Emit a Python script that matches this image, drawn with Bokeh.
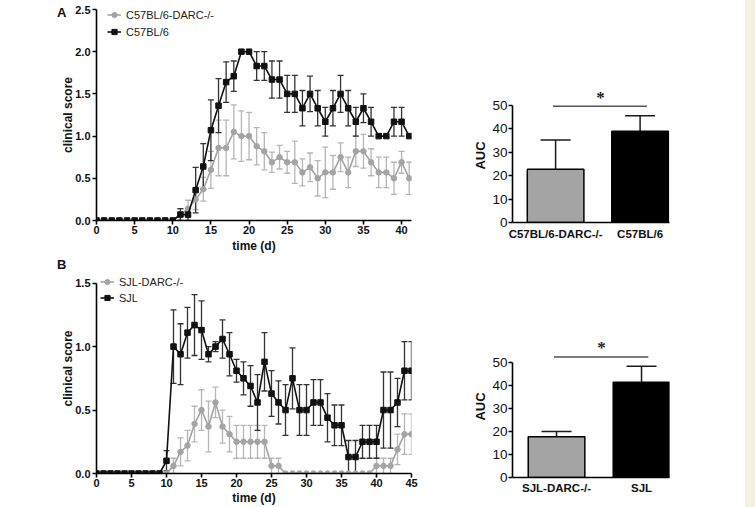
from bokeh.plotting import figure
from bokeh.layouts import row, column
from bokeh.models import (ColumnDataSource, Whisker, TeeHead, Legend, LegendItem,
                          LinearAxis, FixedTicker, Range1d, Spacer, NumeralTickFormatter)
from bokeh.embed import file_html
from bokeh.resources import INLINE

FONT = "Liberation Sans"
GREY = "#a4a4a4"
GREY_ERR = "#b6b6b6"
BLACK = "#111111"
BLACK_ERR = "#333333"

# ---- Panel A: C57BL/6 background, clinical score per day (mean, SEM) ----
labels_a = ["C57BL/6-DARC-/-", "C57BL/6"]
days_a = list(range(0, 42))
ko_a = [0, 0, 0, 0, 0, 0, 0, 0, 0, 0, 0,
        0.07, 0.14, 0.25, 0.37, 0.60, 0.86, 0.86, 1.05, 1.00, 1.00,
        0.88, 0.82, 0.69, 0.75, 0.69, 0.69, 0.57, 0.63, 0.50, 0.57,
        0.57, 0.75, 0.57, 0.82, 0.82, 0.69, 0.57, 0.57, 0.50, 0.69, 0.50]
ko_a_err = [0, 0, 0, 0, 0, 0, 0, 0, 0, 0, 0,
            0.07, 0.10, 0.12, 0.14, 0.22, 0.33, 0.33, 0.32, 0.30, 0.28,
            0.22, 0.22, 0.12, 0.14, 0.13, 0.25, 0.16, 0.17, 0.21, 0.30,
            0.20, 0.17, 0.18, 0.18, 0.20, 0.16, 0.18, 0.18, 0.19, 0.13, 0.19]
wt_a = [0, 0, 0, 0, 0, 0, 0, 0, 0, 0, 0,
        0.07, 0.07, 0.36, 0.64, 1.07, 1.36, 1.64, 1.71, 2.00, 2.00,
        1.83, 1.83, 1.67, 1.67, 1.50, 1.50, 1.33, 1.50, 1.33, 1.17,
        1.33, 1.50, 1.33, 1.17, 1.33, 1.17, 1.00, 1.00, 1.17, 1.17, 1.00]
wt_a_err = [0, 0, 0, 0, 0, 0, 0, 0, 0, 0, 0,
            0.07, 0.07, 0.27, 0.27, 0.36, 0.32, 0.24, 0.18, 0, 0,
            0.17, 0.17, 0.22, 0.22, 0.22, 0.22, 0.21, 0.21, 0.21, 0.17,
            0.21, 0.22, 0.21, 0.17, 0.17, 0.17, 0, 0, 0.17, 0.17, 0]
xticks_a = [0, 5, 10, 15, 20, 25, 30, 35, 40]
yticks_a = [0.0, 0.5, 1.0, 1.5, 2.0, 2.5]

auc_a = [22.8, 39.0]
auc_a_err = [12.5, 6.7]

# ---- Panel B: SJL background ----
labels_b = ["SJL-DARC-/-", "SJL"]
days_b = list(range(0, 46))
ko_b = [0, 0, 0, 0, 0, 0, 0, 0, 0, 0, 0,
        0.06, 0.17, 0.22, 0.39, 0.50, 0.37, 0.56, 0.37, 0.31, 0.25,
        0.25, 0.25, 0.25, 0.25, 0.06, 0.06,
        0, 0, 0, 0, 0, 0, 0, 0, 0, 0, 0, 0, 0,
        0.06, 0.06, 0.06, 0.19, 0.31, 0.31]
ko_b_err = [0, 0, 0, 0, 0, 0, 0, 0, 0, 0, 0,
            0.06, 0.11, 0.12, 0.14, 0.16, 0.20, 0.12, 0.13, 0.14, 0.13,
            0.13, 0.13, 0.13, 0.13, 0.06, 0.06,
            0, 0, 0, 0, 0, 0, 0, 0, 0, 0, 0, 0, 0,
            0.06, 0.06, 0.06, 0.12, 0.16, 0.16]
wt_b = [0, 0, 0, 0, 0, 0, 0, 0, 0, 0,
        0.10, 1.00, 0.94, 1.11, 1.17, 1.13, 0.94, 1.00, 1.06, 0.94,
        0.81, 0.75, 0.69, 0.56, 0.88, 0.63, 0.56, 0.50, 0.75, 0.50,
        0.50, 0.56, 0.56, 0.44, 0.38, 0.38, 0.13, 0.13, 0.25, 0.25,
        0.25, 0.50, 0.50, 0.56, 0.81, 0.81]
wt_b_err = [0, 0, 0, 0, 0, 0, 0, 0, 0, 0,
            0.08, 0.29, 0.24, 0.20, 0.24, 0.23, 0.06, 0.04, 0.15, 0.17,
            0.09, 0.13, 0.16, 0.22, 0.23, 0.18, 0.17, 0.20, 0.24, 0.20,
            0.20, 0.18, 0.18, 0.19, 0.16, 0.16, 0.13, 0.13, 0.13, 0.13,
            0.13, 0.30, 0.30, 0.19, 0.23, 0.23]
xticks_b = [0, 5, 10, 15, 20, 25, 30, 35, 40, 45]
yticks_b = [0.0, 0.5, 1.0, 1.5]

auc_b = [17.7, 41.3]
auc_b_err = [2.3, 7.0]
auc_ticks = [0, 10, 20, 30, 40, 50]


def style_axis(ax, tick_size, bold=True, line_w=1.6):
    ax.axis_line_width = line_w
    ax.axis_line_color = "black"
    ax.major_tick_line_width = line_w
    ax.major_tick_line_color = "black"
    ax.major_tick_in = 0
    ax.major_tick_out = 4
    ax.minor_tick_in = 0
    ax.minor_tick_out = 0
    ax.major_label_text_font = FONT
    ax.major_label_text_font_size = tick_size
    ax.major_label_text_font_style = "bold" if bold else "normal"
    ax.major_label_text_color = "#111111"
    ax.axis_label_text_font = FONT
    ax.axis_label_text_font_style = "bold"
    ax.axis_label_text_color = "#111111"


def add_errors(p, x, y, err, color, head):
    xs = [d for d, e in zip(x, err) if e > 0]
    up = [m + e for m, e in zip(y, err) if e > 0]
    lo = [m - e for m, e in zip(y, err) if e > 0]
    src = ColumnDataSource(dict(x=xs, upper=up, lower=lo))
    w = Whisker(base="x", upper="upper", lower="lower", source=src,
                line_color=color, line_width=1.3,
                upper_head=TeeHead(size=head, line_color=color, line_width=1.3),
                lower_head=TeeHead(size=head, line_color=color, line_width=1.3))
    p.add_layout(w)


def line_panel(days, ko, ko_err, wt, wt_err, labels, xticks, yticks, x_end, y_end,
               width, height, borders, letter, letter_y, legend_pos, legend_gap, xlab_off):
    left, right, top, bottom = borders
    p = figure(width=width, height=height, output_backend="svg", toolbar_location=None,
               x_range=Range1d(0, x_end), y_range=Range1d(0, y_end),
               min_border_left=left, min_border_right=right,
               min_border_top=top, min_border_bottom=bottom)
    p.xgrid.visible = False
    p.ygrid.visible = False
    p.outline_line_color = None
    p.background_fill_color = "white"
    p.border_fill_color = "white"

    style_axis(p.xaxis[0], "11px")
    style_axis(p.yaxis[0], "11px")
    p.xaxis.ticker = FixedTicker(ticks=xticks)
    p.yaxis.ticker = FixedTicker(ticks=yticks)
    p.yaxis.bounds = (yticks[0], yticks[-1])
    p.yaxis.formatter = NumeralTickFormatter(format="0.0")
    p.xaxis.major_label_standoff = 1
    p.yaxis.major_label_standoff = 2
    p.xaxis.axis_label = "time (d)"
    p.yaxis.axis_label = "clinical score"
    p.xaxis.axis_label_text_font_size = "12px"
    p.yaxis.axis_label_text_font_size = "12px"
    p.xaxis.axis_label_standoff = xlab_off
    p.yaxis.axis_label_standoff = -3

    # panel letter: a bare outer axis carrying a single label near the top
    letter_axis = LinearAxis(ticker=FixedTicker(ticks=[letter_y]),
                             major_label_overrides={letter_y: letter},
                             axis_line_color=None, major_tick_line_color=None,
                             minor_tick_line_color=None, major_tick_out=0, major_tick_in=0,
                             major_label_standoff=-8,
                             major_label_text_font=FONT, major_label_text_font_style="bold",
                             major_label_text_font_size="13px",
                             major_label_text_color="#111111")
    p.add_layout(letter_axis, "left")

    add_errors(p, days, ko, ko_err, GREY_ERR, 6)
    add_errors(p, days, wt, wt_err, BLACK_ERR, 6)

    r_ko_l = p.line(days, ko, line_color=GREY, line_width=1.6)
    r_ko_p = p.scatter(days, ko, marker="circle", size=5.5, fill_color=GREY, line_color=GREY)
    r_wt_l = p.line(days, wt, line_color=BLACK, line_width=1.6)
    r_wt_p = p.scatter(days, wt, marker="square", size=5.5, fill_color=BLACK, line_color=BLACK)

    legend = Legend(items=[LegendItem(label=labels[0], renderers=[r_ko_l, r_ko_p]),
                           LegendItem(label=labels[1], renderers=[r_wt_l, r_wt_p])],
                    location=legend_pos, orientation="vertical",
                    glyph_width=14, glyph_height=13, label_height=13,
                    label_standoff=5, spacing=legend_gap, padding=0, margin=0,
                    border_line_alpha=0, background_fill_alpha=0,
                    label_text_font=FONT, label_text_font_size="11px",
                    label_text_color="#222222")
    p.add_layout(legend)
    return p


def bar_panel(groups, auc, auc_err, y_end, x_start, x_end, bar_w,
              width, height, borders, cat_off):
    left, right, top, bottom = borders
    p = figure(width=width, height=height, output_backend="svg", toolbar_location=None,
               x_range=Range1d(x_start, x_end), y_range=Range1d(0, y_end),
               min_border_left=left, min_border_right=right,
               min_border_top=top, min_border_bottom=bottom)
    p.xgrid.visible = False
    p.ygrid.visible = False
    p.outline_line_color = None
    p.border_fill_color = "white"

    xs = list(range(1, len(groups) + 1))
    style_axis(p.xaxis[0], "11.5px")
    style_axis(p.yaxis[0], "13.5px", bold=False)
    p.xaxis.ticker = FixedTicker(ticks=xs)
    p.xaxis.major_label_overrides = {x: g for x, g in zip(xs, groups)}
    p.xaxis.major_tick_out = 0
    p.xaxis.major_label_standoff = cat_off
    p.yaxis.ticker = FixedTicker(ticks=auc_ticks)
    p.yaxis.bounds = (auc_ticks[0], auc_ticks[-1])
    p.yaxis.major_label_standoff = 1
    p.yaxis.axis_label = "AUC"
    p.yaxis.axis_label_text_font_size = "13px"
    p.yaxis.axis_label_standoff = 1

    tops = [a + e for a, e in zip(auc, auc_err)]
    src = ColumnDataSource(dict(x=xs, upper=tops, lower=auc))
    p.add_layout(Whisker(base="x", upper="upper", lower="lower", source=src,
                         line_color="#1a1a1a", line_width=1.5,
                         upper_head=TeeHead(size=30, line_color="#1a1a1a", line_width=1.5),
                         lower_head=None))
    p.vbar(x=xs, top=auc, width=bar_w, bottom=0,
           fill_color=[GREY, "black"], line_color="black", line_width=1.5)

    # significance bracket and star above the taller error bar
    sig_y = max(tops) + 4
    p.line([xs[0] - 0.03, xs[-1] + 0.08], [sig_y, sig_y], line_color="#555555", line_width=1.5)
    p.text([(xs[0] + xs[-1]) / 2 + 0.03], [sig_y - 0.2], text=["*"],
           text_font=FONT, text_font_size="17px", text_font_style="bold",
           text_align="center", text_baseline="bottom", text_color="#222222")
    return p


pA = line_panel(days_a, ko_a, ko_a_err, wt_a, wt_a_err, labels_a, xticks_a, yticks_a, 41.3, 2.5,
                450, 255, (96, 37, 9, 33), "A", 2.467, (11, 182), 4, 2)
pB = line_panel(days_b, ko_b, ko_b_err, wt_b, wt_b_err, labels_b, xticks_b, yticks_b, 45, 1.655,
                450, 252, (96, 39, 8, 31), "B", 1.646, (4, 169), 3, 1)
pAbar = bar_panel(labels_a, auc_a, auc_a_err, 57.3, 0.49, 2.348, 0.67,
                  295, 255, (62, 71, 88, 33), 5)
pBbar = bar_panel(labels_b, auc_b, auc_b_err, 61.6, 0.482, 2.329, 0.666,
                  295, 252, (59, 76, 80, 30), 4)

edge = Spacer(width=10, height=507, styles={"background-color": "#f5f1df"})
layout = row(column(pA, pB), column(pAbar, pBbar), edge)

with open("out.html", "w") as f:
    f.write(file_html(layout, INLINE))
